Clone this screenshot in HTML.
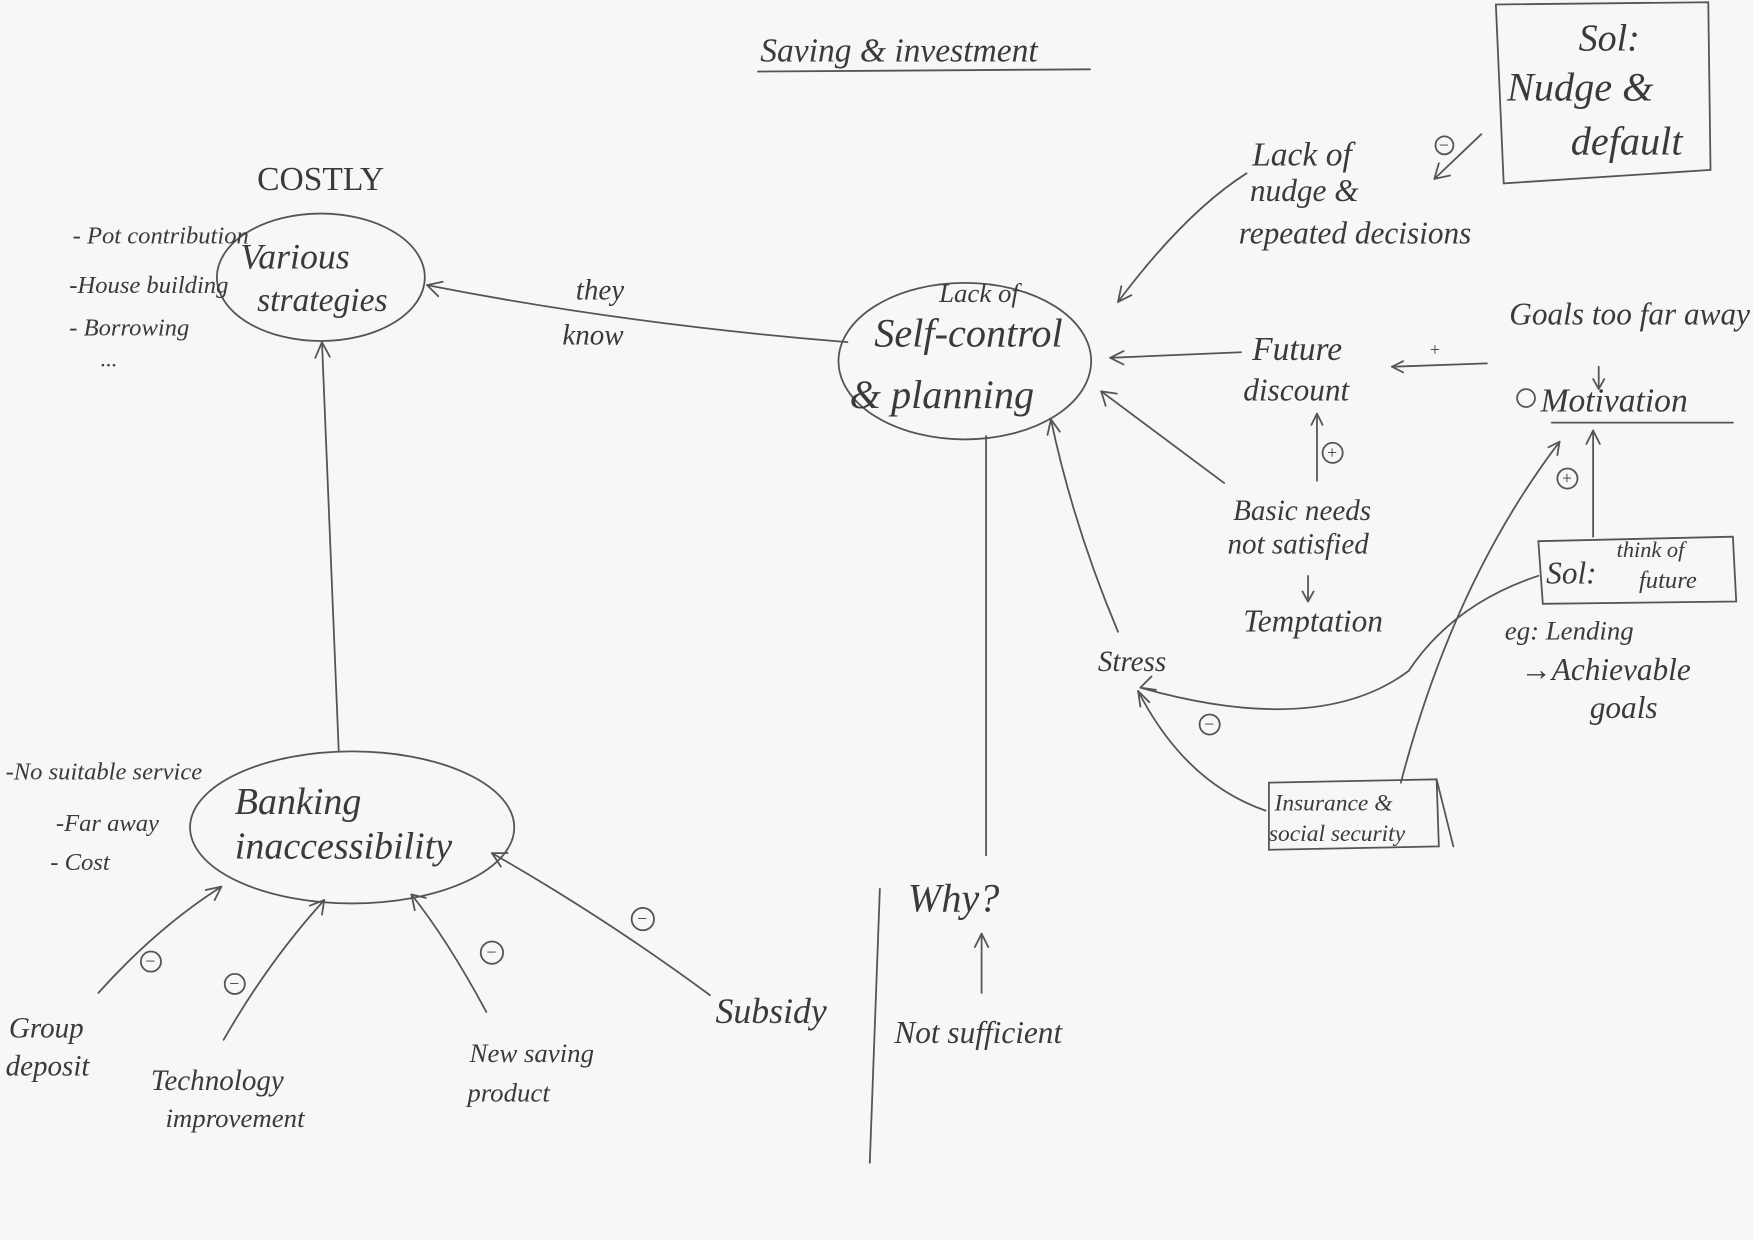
<!DOCTYPE html>
<html><head><meta charset="utf-8"><style>
html,body{margin:0;padding:0;background:#f6f7f9;}
svg{display:block}
text{font-family:"Liberation Serif",serif;font-style:italic;fill:#3a3a3a}
</style></head><body>
<svg width="1753" height="1240" viewBox="0 0 1568 1109" preserveAspectRatio="none" xmlns="http://www.w3.org/2000/svg">
<rect width="1568" height="1109" fill="#f6f7f9"/>
<g stroke="#555" stroke-width="1.6" fill="none" stroke-linecap="round">
<!-- title underline -->
<line x1="678" y1="64" x2="975" y2="62"/>
<!-- sol box -->
<path d="M1338 4 L1528 2 L1530 152 L1345 164 Z"/>
<!-- ellipses -->
<ellipse cx="287" cy="248" rx="93" ry="57"/>
<ellipse cx="863" cy="323" rx="113" ry="70"/>
<ellipse cx="315" cy="740" rx="145" ry="68"/>
<!-- they know arrow -->
<path d="M758 306 Q560 290 382 255"/><path d="M382 255 l14 -3 M382 255 l10 10"/>
<!-- banking to various -->
<line x1="303" y1="672" x2="288" y2="306"/><path d="M288 306 l-6 14 M288 306 l7 13"/>
<!-- why vertical -->
<line x1="882" y1="390" x2="882" y2="765"/>
<line x1="787" y1="795" x2="778" y2="1040"/>
<line x1="878" y1="888" x2="878" y2="835"/><path d="M878 835 l-6 12 M878 835 l6 12"/>
<!-- lack of nudge arrow -->
<path d="M1115 155 Q1060 190 1000 270"/><path d="M1000 270 l3 -14 M1000 270 l12 -6"/>
<path d="M1325 120 L1283 160"/><path d="M1283 160 l4 -14 M1283 160 l14 -3"/>
<!-- future discount arrow -->
<line x1="1110" y1="315" x2="993" y2="320"/><path d="M993 320 l12 -6 M993 320 l12 6"/>
<line x1="1330" y1="325" x2="1245" y2="328"/><path d="M1245 328 l10 -5 M1245 328 l10 5"/>
<line x1="1178" y1="430" x2="1178" y2="370"/><path d="M1178 370 l-5 10 M1178 370 l5 10"/>
<!-- basic needs arrow -->
<line x1="1095" y1="432" x2="985" y2="350"/><path d="M985 350 l14 2 M985 350 l4 13"/>
<line x1="1170" y1="515" x2="1170" y2="535"/><path d="M1170 538 l-5 -9 M1170 538 l5 -9"/>
<!-- stress arrow -->
<path d="M1000 565 Q960 470 940 375"/><path d="M940 375 l-3 14 M940 375 l8 11"/>
<!-- goals -->
<line x1="1430" y1="328" x2="1430" y2="346"/><path d="M1430 348 l-5 -9 M1430 348 l5 -9"/>
<line x1="1388" y1="378" x2="1550" y2="378"/>
<!-- sol think box -->
<path d="M1376 484 L1550 480 L1553 538 L1380 540 Z"/>
<line x1="1425" y1="480" x2="1425" y2="385"/><path d="M1425 385 l-6 12 M1425 385 l6 12"/>
<!-- sol to stress curve -->
<path d="M1376 515 Q1300 540 1260 600 Q1180 660 1020 615"/><path d="M1020 615 l10 -10 M1020 615 l14 2"/>
<!-- insurance box -->
<path d="M1135 700 L1285 697 L1287 757 L1135 760 Z"/><path d="M1285 697 L1300 757"/>
<path d="M1253 700 Q1300 520 1395 395"/><path d="M1395 395 l-10 5 M1395 395 l-2 12"/>
<path d="M1132 725 Q1060 700 1018 618"/><path d="M1018 618 l2 14 M1018 618 l10 10"/>
<!-- bottom arrows -->
<path d="M88 888 Q140 830 198 793"/><path d="M198 793 l-14 3 M198 793 l-6 12"/>
<path d="M200 930 Q240 860 290 805"/><path d="M290 805 l-13 5 M290 805 l-2 13"/>
<path d="M435 905 Q400 840 368 800"/><path d="M368 800 l3 14 M368 800 l13 3"/>
<path d="M635 890 Q540 820 440 763"/><path d="M440 763 l8 12 M440 763 l14 0"/>
<!-- circled signs -->
<circle cx="1292" cy="130" r="8"/><circle cx="1192" cy="405" r="9"/>
<circle cx="1402" cy="428" r="9"/><circle cx="1082" cy="648" r="9"/>
<circle cx="135" cy="860" r="9"/><circle cx="210" cy="880" r="9"/>
<circle cx="440" cy="852" r="10"/><circle cx="575" cy="822" r="10"/>
<circle cx="1365" cy="356" r="8"/>
</g>
<g font-size="16" fill="#555">
<text x="1286" y="135">−</text><text x="1186" y="410">+</text><text x="1396" y="433">+</text>
<text x="1076" y="653">−</text><text x="129" y="865">−</text><text x="204" y="885">−</text>
<text x="434" y="857">−</text><text x="569" y="827">−</text><text x="1278" y="318">+</text>
</g>
<text x="680" y="55" font-size="30">Saving &amp; investment</text>
<text x="1412" y="45" font-size="34">Sol:</text>
<text x="1348" y="90" font-size="36">Nudge &amp;</text>
<text x="1405" y="138" font-size="36">default</text>
<text x="230" y="170" font-size="30" style="font-style:normal">COSTLY</text>
<text x="215" y="240" font-size="32">Various</text>
<text x="230" y="278" font-size="30">strategies</text>
<text x="65" y="218" font-size="22">- Pot contribution</text>
<text x="62" y="262" font-size="22">-House building</text>
<text x="62" y="300" font-size="22">- Borrowing</text>
<text x="90" y="328" font-size="20">...</text>
<text x="515" y="268" font-size="26">they</text>
<text x="503" y="308" font-size="26">know</text>
<text x="840" y="270" font-size="24">Lack of</text>
<text x="782" y="310" font-size="36">Self-control</text>
<text x="760" y="365" font-size="36">&amp; planning</text>
<text x="1120" y="148" font-size="30">Lack of</text>
<text x="1118" y="180" font-size="28">nudge &amp;</text>
<text x="1108" y="218" font-size="28">repeated decisions</text>
<text x="1350" y="290" font-size="28">Goals too far away</text>
<text x="1120" y="322" font-size="30">Future</text>
<text x="1112" y="358" font-size="28">discount</text>
<text x="1378" y="368" font-size="30">Motivation</text>
<text x="1103" y="465" font-size="26">Basic needs</text>
<text x="1098" y="495" font-size="26">not satisfied</text>
<text x="1112" y="565" font-size="28">Temptation</text>
<text x="982" y="600" font-size="26">Stress</text>
<text x="1383" y="522" font-size="28">Sol:</text>
<text x="1446" y="498" font-size="20">think of</text>
<text x="1466" y="526" font-size="22">future</text>
<text x="1346" y="572" font-size="24">eg: Lending</text>
<text x="1360" y="608" font-size="28">→Achievable</text>
<text x="1422" y="642" font-size="28">goals</text>
<text x="1140" y="725" font-size="21">Insurance &amp;</text>
<text x="1135" y="752" font-size="21">social security</text>
<text x="5" y="697" font-size="22">-No suitable service</text>
<text x="50" y="743" font-size="22">-Far away</text>
<text x="45" y="778" font-size="22">- Cost</text>
<text x="210" y="728" font-size="34">Banking</text>
<text x="210" y="768" font-size="34">inaccessibility</text>
<text x="812" y="815" font-size="36">Why?</text>
<text x="800" y="933" font-size="28">Not sufficient</text>
<text x="640" y="915" font-size="32">Subsidy</text>
<text x="420" y="950" font-size="24">New saving</text>
<text x="418" y="985" font-size="24">product</text>
<text x="135" y="975" font-size="26">Technology</text>
<text x="148" y="1008" font-size="24">improvement</text>
<text x="8" y="928" font-size="26">Group</text>
<text x="5" y="962" font-size="26">deposit</text>
</svg>
</body></html>
